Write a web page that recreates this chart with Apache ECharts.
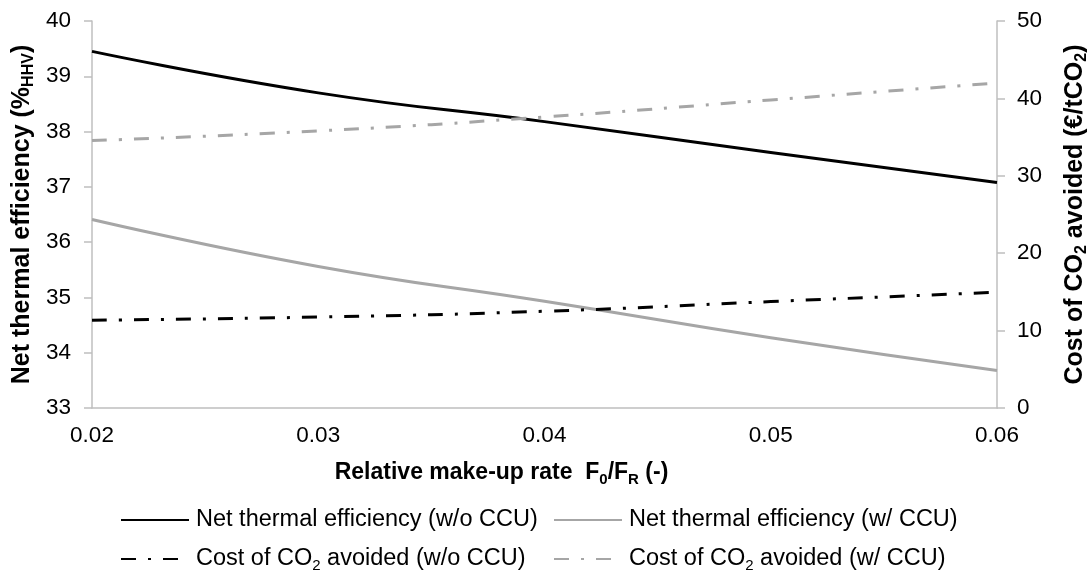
<!DOCTYPE html>
<html>
<head>
<meta charset="utf-8">
<script src="https://cdn.jsdelivr.net/npm/echarts@6/dist/echarts.min.js"></script>
<style>
html,body{margin:0;padding:0;background:#fff;}
#chart{width:1089px;height:577px;}
</style>
</head>
<body>
<div id="chart"></div>
<script>
const xValues = [0.02, 0.03, 0.04, 0.05, 0.06];
const effWoCCU = [39.45, 38.70, 38.18, 37.62, 37.08];
const effWCCU = [36.41, 35.56, 34.93, 34.27, 33.68];
const costWoCCU = [11.35, 11.75, 12.5, 13.75, 14.95];
const costWCCU = [34.55, 35.8, 37.6, 39.8, 42.0];
const seriesNames = [
  'Net thermal efficiency (w/o CCU)',
  'Net thermal efficiency (w/ CCU)',
  'Cost of CO2 avoided (w/o CCU)',
  'Cost of CO2 avoided (w/ CCU)'
];
const leftTicks = { min: 33, max: 40, interval: 1 };
const rightTicks = { min: 0, max: 50, interval: 10 };
const xTicks = { min: 0.02, max: 0.06, interval: 0.01 };

const FONT = '"Liberation Sans", Arial, sans-serif';
const BLACK = '#000000';
const GREY = '#A6A6A6';
const AXIS = '#BFBFBF';
const DASHDOT = [15, 12, 3, 12];

function pairs(ys) { return xValues.map((x, i) => [x, ys[i]]); }

const chart = echarts.init(document.getElementById('chart'), null, { renderer: 'canvas' });

const legendText = {
  fontFamily: FONT, fontSize: 23.5, color: '#000', padding: [0, 0, 0, 2],
  rich: {
    s: { fontFamily: FONT, fontSize: 15, color: '#000', padding: [13, 0, 0, 0] }
  }
};
function legendFmt(name) { return name.replace('CO2', 'CO{s|2}'); }

const subBold = (size, pad) => ({ fontFamily: FONT, fontSize: size, fontWeight: 'bold', color: '#000', padding: [pad, 0, 0, 0] });

const legendBase = {
  orient: 'vertical', top: 508, height: 68, padding: 0,
  itemWidth: 68, itemHeight: 14, itemGap: 15,
  itemStyle: { opacity: 0 },
  formatter: legendFmt, textStyle: legendText, selectedMode: false
};

const option = {
  animation: false,
  backgroundColor: '#fff',
  grid: { left: 92, right: 92, top: 21, bottom: 169, containLabel: false, outerBoundsMode: 'none' },
  xAxis: {
    type: 'value', min: xTicks.min, max: xTicks.max, interval: xTicks.interval,
    name: 'Relative make-up rate  F{s|0}/F{s|R} (-)',
    nameLocation: 'middle', nameGap: 51, nameMoveOverlap: false,
    nameTextStyle: {
      fontFamily: FONT, fontSize: 23, fontWeight: 'bold', color: '#000',
      padding: [0, 86, 0, 0],
      rich: { s: subBold(15, 13) }
    },
    axisLine: { show: true, onZero: false, lineStyle: { color: AXIS, width: 1.5 } },
    axisTick: { show: false },
    splitLine: { show: false },
    axisLabel: {
      fontFamily: FONT, fontSize: 22.5, color: '#000', margin: 16,
      formatter: v => v.toFixed(2)
    }
  },
  yAxis: [
    {
      type: 'value', position: 'left', min: leftTicks.min, max: leftTicks.max, interval: leftTicks.interval,
      name: 'Net thermal efficiency (%{s|HHV})',
      nameLocation: 'middle', nameRotate: 90, nameGap: 55, nameMoveOverlap: false,
      nameTextStyle: {
        fontFamily: FONT, fontSize: 25, fontWeight: 'bold', color: '#000',
        rich: { s: subBold(16, 14) }
      },
      axisLine: { show: true, lineStyle: { color: AXIS, width: 1.5 } },
      axisTick: { show: true, inside: false, length: 8, lineStyle: { color: AXIS, width: 1.5 } },
      splitLine: { show: false },
      axisLabel: { fontFamily: FONT, fontSize: 22.5, color: '#000', margin: 21 }
    },
    {
      type: 'value', position: 'right', min: rightTicks.min, max: rightTicks.max, interval: rightTicks.interval,
      name: 'Cost of CO{s|2} avoided (€/tCO{s|2})',
      nameLocation: 'middle', nameRotate: 90, nameGap: 63, nameMoveOverlap: false,
      nameTextStyle: {
        fontFamily: FONT, fontSize: 25, fontWeight: 'bold', color: '#000',
        rich: { s: subBold(16, 14) }
      },
      axisLine: { show: true, lineStyle: { color: AXIS, width: 1.5 } },
      axisTick: { show: true, inside: false, length: 8, lineStyle: { color: AXIS, width: 1.5 } },
      splitLine: { show: false },
      axisLabel: { fontFamily: FONT, fontSize: 22.5, color: '#000', margin: 20 }
    }
  ],
  legend: [
    Object.assign({}, legendBase, { left: 120, data: [seriesNames[0], seriesNames[2]] }),
    Object.assign({}, legendBase, { left: 553, data: [seriesNames[1], seriesNames[3]] })
  ],
  series: [
    {
      name: seriesNames[0], type: 'line', yAxisIndex: 0, smooth: true, symbol: 'none',
      data: pairs(effWoCCU), lineStyle: { color: BLACK, width: 3 }, itemStyle: { color: BLACK }
    },
    {
      name: seriesNames[1], type: 'line', yAxisIndex: 0, smooth: true, symbol: 'none',
      data: pairs(effWCCU), lineStyle: { color: GREY, width: 3 }, itemStyle: { color: GREY }
    },
    {
      name: seriesNames[2], type: 'line', yAxisIndex: 1, smooth: true, symbol: 'none',
      data: pairs(costWoCCU), lineStyle: { color: BLACK, width: 3, type: DASHDOT }, itemStyle: { color: BLACK }
    },
    {
      name: seriesNames[3], type: 'line', yAxisIndex: 1, smooth: true, symbol: 'none',
      data: pairs(costWCCU), lineStyle: { color: GREY, width: 3, type: DASHDOT }, itemStyle: { color: GREY }
    }
  ]
};
chart.setOption(option);
</script>
</body>
</html>
